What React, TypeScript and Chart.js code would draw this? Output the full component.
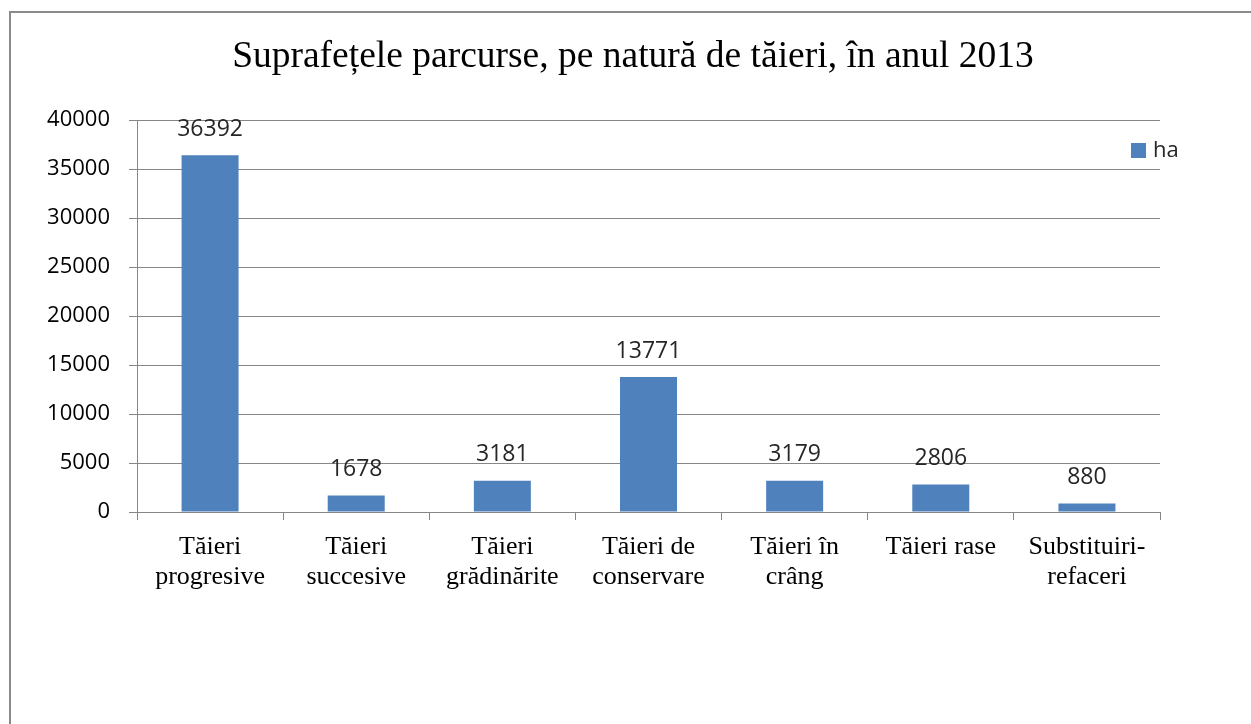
import React, { useEffect, useRef } from "react";
import { Chart, registerables } from "chart.js";

Chart.register(...registerables);

const categories: string[][] = [
  ["Tăieri", "progresive"],
  ["Tăieri", "succesive"],
  ["Tăieri", "grădinărite"],
  ["Tăieri de", "conservare"],
  ["Tăieri în", "crâng"],
  ["Tăieri rase"],
  ["Substituiri-", "refaceri"],
];
const seriesLabel = "ha";
const haValues = [36392, 1678, 3181, 13771, 3179, 2806, 880];
const yTicks = [0, 5000, 10000, 15000, 20000, 25000, 30000, 35000, 40000];
const titleText = "Suprafețele parcurse, pe natură de tăieri, în anul 2013";

const BAR = "#4F81BD";
const GRID = "#868686";
const SANS = "'Open Sans', 'Noto Sans', sans-serif";
const SERIF = "'Liberation Serif', 'DejaVu Serif', serif";

const valueLabels = {
  id: "valueLabels",
  afterDatasetsDraw(chart: any) {
    const ctx = chart.ctx;
    const meta = chart.getDatasetMeta(0);
    ctx.save();
    ctx.font = `23px ${SANS}`;
    ctx.fillStyle = "#262626";
    ctx.textAlign = "center";
    ctx.textBaseline = "middle";
    meta.data.forEach((bar: any, i: number) => {
      const v = chart.data.datasets[0].data[i];
      ctx.fillText(String(v), bar.x, bar.y - 26);
    });
    ctx.restore();
  },
};

const chartTitle = {
  id: "chartTitle",
  afterDraw(chart: any) {
    const ctx = chart.ctx;
    ctx.save();
    ctx.font = `37.5px ${SERIF}`;
    ctx.fillStyle = "#000";
    ctx.textAlign = "center";
    ctx.textBaseline = "alphabetic";
    ctx.fillText(titleText, 633, 67);
    ctx.restore();
  },
};

const sideLegend = {
  id: "sideLegend",
  afterDraw(chart: any) {
    const ctx = chart.ctx;
    const ds = chart.data.datasets[0];
    const x = chart.chartArea.right - 29;
    const y = 151;
    ctx.save();
    ctx.fillStyle = ds.backgroundColor;
    ctx.fillRect(x, y - 8, 15, 15);
    ctx.font = `22px ${SANS}`;
    ctx.fillStyle = "#262626";
    ctx.textAlign = "left";
    ctx.textBaseline = "middle";
    ctx.fillText(ds.label, x + 22, y);
    ctx.restore();
  },
};

export default function App() {
  const ref = useRef<HTMLCanvasElement | null>(null);
  useEffect(() => {
    if (!ref.current) return;
    const chart = new Chart(ref.current, {
      type: "bar",
      data: {
        labels: categories,
        datasets: [
          {
            label: seriesLabel,
            data: haValues,
            backgroundColor: BAR,
            borderWidth: 0,
            barPercentage: 0.39,
            categoryPercentage: 1,
          },
        ],
      },
      options: {
        responsive: false,
        animation: false,
        layout: { padding: { left: 0, right: 91, top: 120, bottom: 0 } },
        plugins: {
          legend: { display: false },
          tooltip: { enabled: false },
          title: { display: false },
        },
        scales: {
          x: {
            grid: {
              drawOnChartArea: false,
              drawTicks: true,
              tickLength: 8,
              color: GRID,
              offset: true,
            },
            border: { color: GRID, width: 1 },
            ticks: {
              color: "#000",
              font: { family: SERIF, size: 26, lineHeight: 1.12 },
              padding: 13,
              maxRotation: 0,
              autoSkip: false,
            },
            afterFit(s: any) {
              s.height = 212;
            },
          },
          y: {
            min: 0,
            max: 40000,
            afterBuildTicks(s: any) {
              s.ticks = yTicks.map((v) => ({ value: v }));
            },
            grid: { color: GRID, tickLength: 8, drawTicks: true },
            border: { color: GRID, width: 1 },
            ticks: {
              color: "#000",
              font: { family: SANS, size: 22 },
              padding: 19,
              callback: (v: any) => String(v),
            },
            afterFit(s: any) {
              s.width = 137;
            },
          },
        },
      },
      plugins: [valueLabels, chartTitle, sideLegend],
    });
    return () => chart.destroy();
  }, []);

  return (
    <div
      style={{
        position: "fixed",
        left: 0,
        top: 0,
        width: 1251,
        height: 724,
        overflow: "hidden",
        background: "#fff",
      }}
    >
      <div
        style={{
          position: "absolute",
          left: 9,
          top: 11,
          width: 1400,
          height: 900,
          border: "2px solid #8a8a8a",
          boxSizing: "border-box",
        }}
      />
      <canvas
        ref={ref}
        width={1251}
        height={724}
        style={{ position: "absolute", left: 0, top: 0 }}
      />
    </div>
  );
}
